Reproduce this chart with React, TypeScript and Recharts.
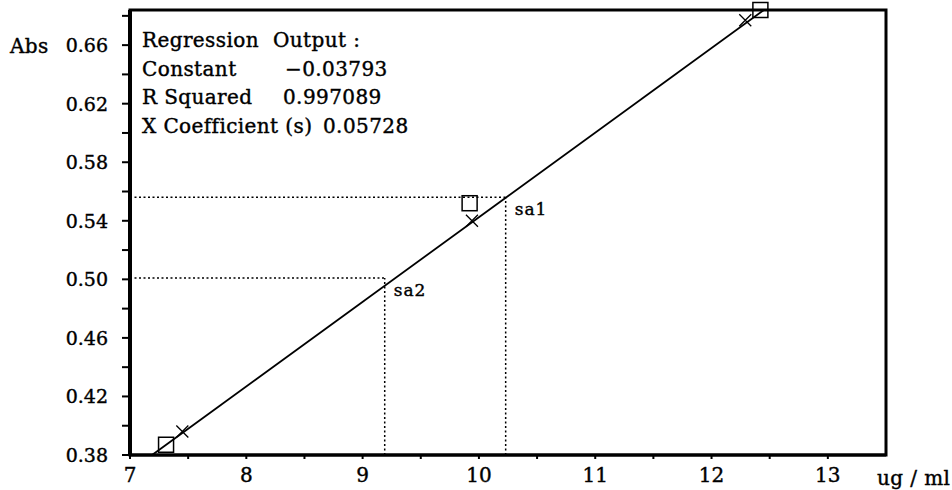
import { ComposedChart, Line, ReferenceArea, ReferenceLine, Scatter, XAxis, YAxis } from 'recharts'

// standards as measured (squares) and as fitted (crosses)
const standardConc = [7.31, 9.92, 12.42]
const standardAbs = [0.387, 0.552, 0.684]
const fittedConc = [7.45, 9.94, 12.29]
const fittedAbs = [0.396, 0.54, 0.677]

// regression line end points
const lineConc = [7.19, 12.45]
const lineAbs = [0.38, 0.684]

// samples
const sampleNames = ['sa1', 'sa2']
const sampleConc = [10.23, 9.19]
const sampleAbs = [0.556, 0.501]

const xTicks = [7, 7.5, 8, 8.5, 9, 9.5, 10, 10.5, 11, 11.5, 12, 12.5, 13]
const yTicks = [0.38, 0.4, 0.42, 0.44, 0.46, 0.48, 0.5, 0.52, 0.54, 0.56, 0.58, 0.6, 0.62, 0.64, 0.66, 0.68]
const yLabels = [0.38, 0.42, 0.46, 0.5, 0.54, 0.58, 0.62, 0.66]

const regressionLabels = ['Regression', 'Constant', 'R Squared', 'X Coefficient (s)']
const regressionValues = ['Output :', '\u22120.03793', '0.997089', '0.05728']
const regressionValueX = [273, 285, 283, 323]

const FONT = '"DejaVu Serif", serif'

const standards = standardConc.map((x, i) => ({ x, y: standardAbs[i] }))
const fitted = fittedConc.map((x, i) => ({ x, y: fittedAbs[i] }))
const lineData = lineConc.map((x, i) => ({ x, y: lineAbs[i] }))
const samples = sampleNames.map((name, i) => ({ name, x: sampleConc[i], y: sampleAbs[i] }))

const Square = ({ cx, cy }: any) => (
  <rect x={cx - 7.5} y={cy - 7.5} width={15} height={15} fill="none" stroke="#000" strokeWidth={1.5} />
)

const Cross = ({ cx, cy }: any) => (
  <path d={`M${cx - 6},${cy - 6}L${cx + 6},${cy + 6}M${cx - 6},${cy + 6}L${cx + 6},${cy - 6}`} stroke="#000" strokeWidth={1.3} />
)

const SampleLabel = ({ cx, cy, payload }: any) => (
  <text x={cx + 9} y={cy + 18} fontFamily={FONT} fontSize={17} letterSpacing={1} fill="#000" stroke="#000" strokeWidth={0.4}>
    {payload.name}
  </text>
)

const YTick = ({ x, y, payload }: any) =>
  yLabels.some((v) => Math.abs(v - payload.value) < 1e-6) ? (
    <text x={x} y={y} dy={7} textAnchor="end" fontFamily={FONT} fontSize={19} fill="#000" stroke="#000" strokeWidth={0.4}>
      {payload.value.toFixed(2)}
    </text>
  ) : null

const XTick = ({ x, y, payload }: any) =>
  Number.isInteger(payload.value) ? (
    <text x={x} y={y} dy={17} textAnchor="middle" fontFamily={FONT} fontSize={20} fill="#000" stroke="#000" strokeWidth={0.4}>
      {payload.value}
    </text>
  ) : null

export default function App() {
  return (
    <div style={{ position: 'absolute', left: 0, top: 0, width: 952, height: 490, background: '#fff' }}>
      <ComposedChart width={952} height={490} margin={{ top: 10, right: 66, bottom: 0, left: 0 }}>
        <XAxis
          type="number"
          dataKey="x"
          domain={[7, 13.5]}
          ticks={xTicks}
          interval={0}
          height={35}
          tickSize={4}
          tickMargin={6}
          tick={<XTick />}
          axisLine={{ stroke: '#000', strokeWidth: 3 }}
          tickLine={{ stroke: '#000', strokeWidth: 2 }}
        />
        <YAxis
          type="number"
          dataKey="y"
          domain={[0.38, 0.684]}
          ticks={yTicks}
          interval={0}
          width={130}
          tickSize={8}
          tickMargin={14}
          tick={<YTick />}
          axisLine={{ stroke: '#000', strokeWidth: 4 }}
          tickLine={{ stroke: '#000', strokeWidth: 2 }}
        />
        <ReferenceArea x1={7} x2={13.5} y1={0.38} y2={0.684} fill="none" stroke="#000" strokeWidth={3} />
        {samples.map((s) => (
          <ReferenceLine
            key={s.name + 'h'}
            segment={[{ x: 7, y: s.y }, { x: s.x, y: s.y }]}
            stroke="#000"
            strokeWidth={1.5}
            strokeDasharray="2 2.5"
          />
        ))}
        {samples.map((s) => (
          <ReferenceLine
            key={s.name + 'v'}
            segment={[{ x: s.x, y: 0.38 }, { x: s.x, y: s.y }]}
            stroke="#000"
            strokeWidth={1.5}
            strokeDasharray="2 2.5"
          />
        ))}
        <Line data={lineData} dataKey="y" type="linear" stroke="#000" strokeWidth={1.8} dot={false} isAnimationActive={false} />
        <Scatter data={standards} shape={<Square />} isAnimationActive={false} />
        <Scatter data={fitted} shape={<Cross />} isAnimationActive={false} />
        <Scatter data={samples} shape={<SampleLabel />} isAnimationActive={false} />
      </ComposedChart>
      <svg width={952} height={490} style={{ position: 'absolute', left: 0, top: 0, pointerEvents: 'none' }}>
        <g fontFamily={FONT} fontSize={20} letterSpacing={0.4} fill="#000" stroke="#000" strokeWidth={0.4}>
          {regressionLabels.map((label, i) => (
            <text key={label} y={47 + i * 28.5}>
              <tspan x={142}>{label}</tspan>
              <tspan x={regressionValueX[i]}>{regressionValues[i]}</tspan>
            </text>
          ))}
          <text x={10} y={53}>Abs</text>
          <text x={877} y={485}>ug / ml</text>
        </g>
      </svg>
    </div>
  )
}
